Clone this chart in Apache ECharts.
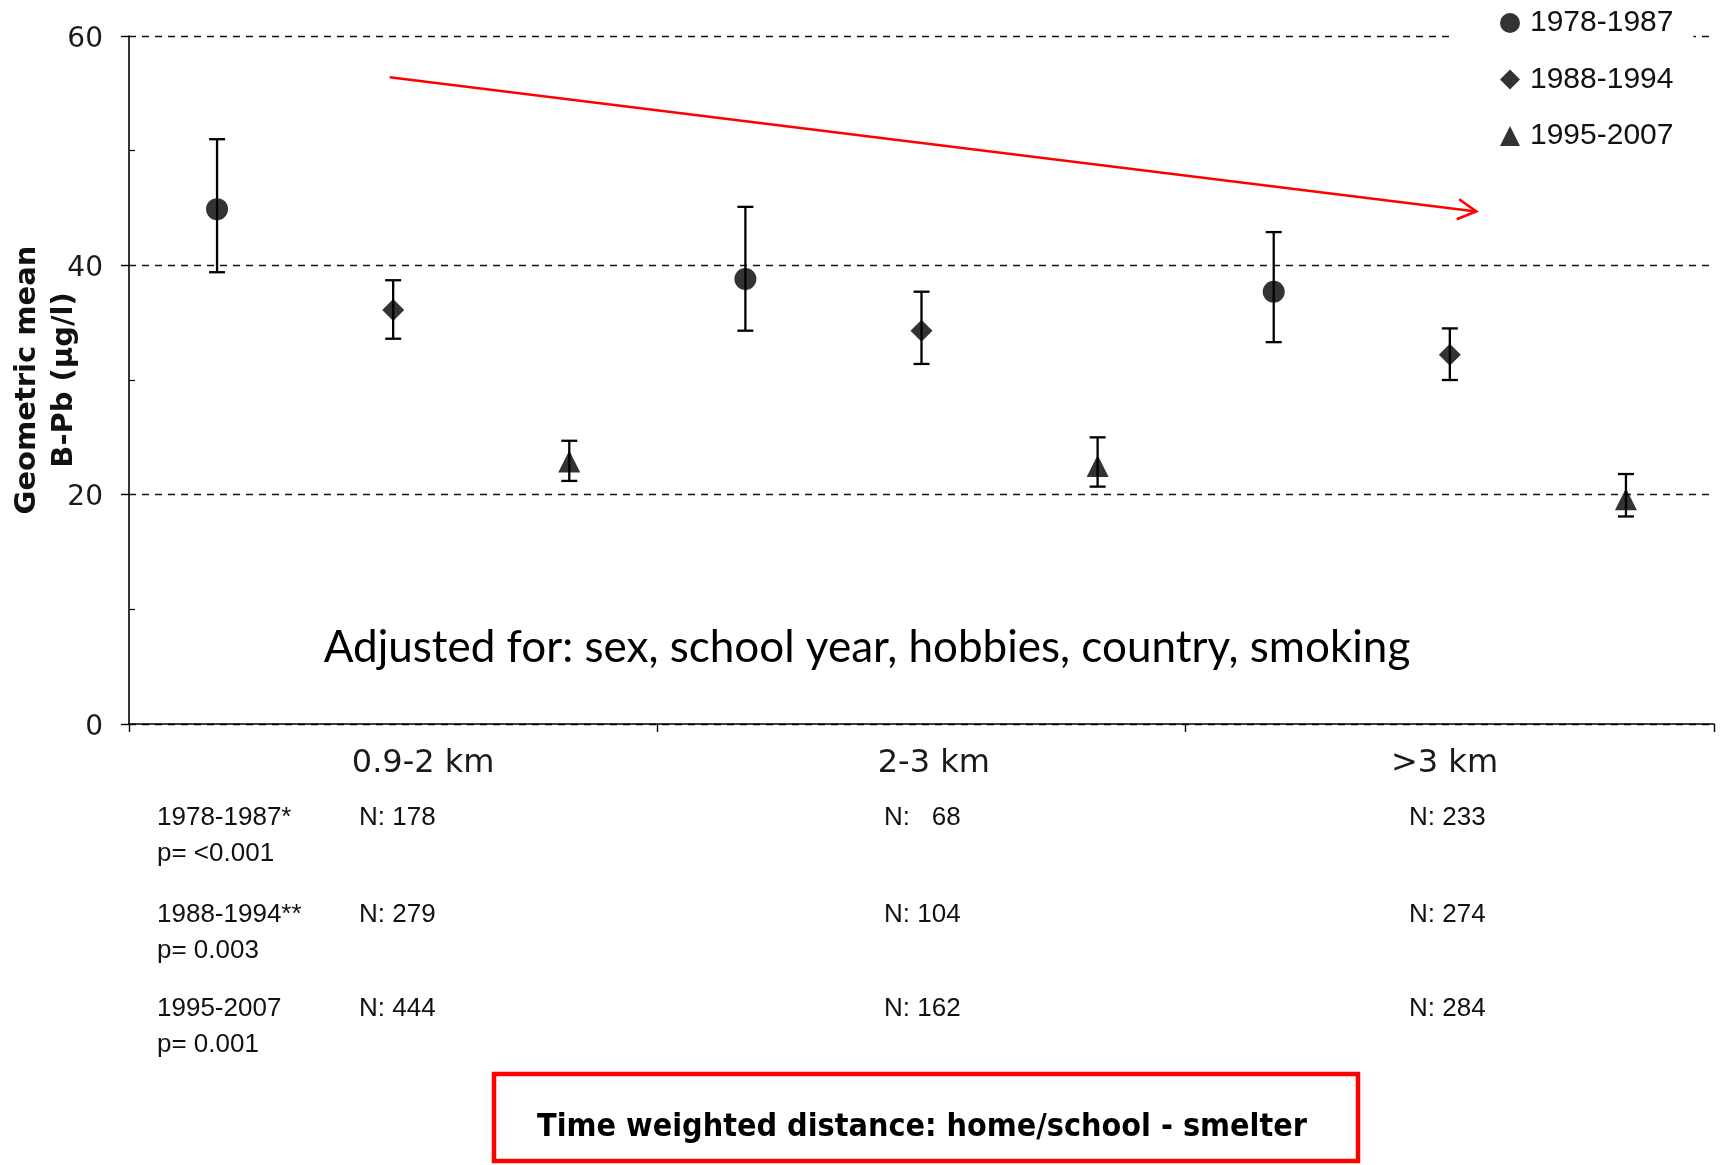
<!DOCTYPE html>
<html>
<head>
<meta charset="utf-8">
<script src="https://cdn.jsdelivr.net/npm/echarts@6/dist/echarts.min.js"></script>
<style>
  html, body { margin: 0; padding: 0; background: #fff; }
  #chart { width: 1721px; height: 1165px; }
</style>
</head>
<body>
<div id="chart"></div>
<script>
// Distance bands (time weighted distance home/school - smelter) and birth periods
const distanceBands = ['0.9-2 km', '2-3 km', '>3 km'];
const periods = ['1978-1987', '1988-1994', '1995-2007'];
const periodSymbols = ['circle', 'diamond', 'triangle'];

// Geometric mean B-Pb (µg/l) with lower / upper limits, one value per distance band
const mean1978 = [44.9, 38.8, 37.7];
const low1978  = [39.4, 34.3, 33.3];
const high1978 = [51.0, 45.1, 42.9];

const mean1988 = [36.1, 34.3, 32.2];
const low1988  = [33.6, 31.4, 30.0];
const high1988 = [38.7, 37.7, 34.5];

const mean1995 = [22.9, 22.5, 19.6];
const low1995  = [21.2, 20.7, 18.1];
const high1995 = [24.7, 25.0, 21.8];

// Number of children per period and distance band
const n1978 = ['178', '  68', '233'];
const n1988 = ['279', '104', '274'];
const n1995 = ['444', '162', '284'];
const periodNotes = ['1978-1987*', '1988-1994**', '1995-2007'];
const pValues = ['p= <0.001', 'p= 0.003', 'p= 0.001'];

// Y axis ticks
const yTicks = [0, 20, 40, 60];
const yMinorTicks = [10, 30, 50];

// Decreasing trend arrow, in axis units: [x0, y0, x1, y1]
const trendArrow = [1.48, 56.4, 7.65, 44.7];

const means = [mean1978, mean1988, mean1995];
const lows = [low1978, low1988, low1995];
const highs = [high1978, high1988, high1995];
const counts = [n1978, n1988, n1995];

// each band holds one slot per period; a mark sits in the middle of its slot
const slot = (band, p) => band * periods.length + p + 0.5;

const scatterSeries = periods.map((name, p) => ({
  name: name,
  type: 'scatter',
  symbol: periodSymbols[p],
  symbolSize: 22,
  z: 5,
  itemStyle: { color: '#000' },
  data: distanceBands.map((b, g) => [slot(g, p), means[p][g]])
}));

const errorData = [];
periods.forEach((name, p) => {
  distanceBands.forEach((b, g) => {
    errorData.push([slot(g, p), lows[p][g], highs[p][g]]);
  });
});

const errorSeries = {
  type: 'custom',
  name: 'ci',
  z: 4,
  encode: { x: 0, y: [1, 2] },
  data: errorData,
  renderItem: function (params, api) {
    const x = api.value(0);
    const top = api.coord([x, api.value(2)]);
    const bot = api.coord([x, api.value(1)]);
    const cap = 8;
    const style = { stroke: '#000', lineWidth: 2.3, fill: null };
    return {
      type: 'group',
      children: [
        { type: 'line', shape: { x1: top[0], y1: top[1], x2: bot[0], y2: bot[1] }, style: style },
        { type: 'line', shape: { x1: top[0] - cap, y1: top[1], x2: top[0] + cap, y2: top[1] }, style: style },
        { type: 'line', shape: { x1: bot[0] - cap, y1: bot[1], x2: bot[0] + cap, y2: bot[1] }, style: style }
      ]
    };
  }
};

const arrowSeries = {
  type: 'custom',
  name: 'trend',
  z: 3,
  encode: { x: [0, 2], y: [1, 3] },
  data: [trendArrow],
  renderItem: function (params, api) {
    const a = api.coord([api.value(0), api.value(1)]);
    const b = api.coord([api.value(2), api.value(3)]);
    const ang = Math.atan2(b[1] - a[1], b[0] - a[0]);
    const len = 21, spread = 0.5;
    const p1 = [b[0] - len * Math.cos(ang - spread), b[1] - len * Math.sin(ang - spread)];
    const p2 = [b[0] - len * Math.cos(ang + spread), b[1] - len * Math.sin(ang + spread)];
    const style = { stroke: '#ff0000', lineWidth: 2.6, fill: null };
    return {
      type: 'group',
      children: [
        { type: 'line', shape: { x1: a[0], y1: a[1], x2: b[0], y2: b[1] }, style: style },
        { type: 'polyline', shape: { points: [p1, b, p2] }, style: style }
      ]
    };
  }
};

// Sample-size table under the axis
const tableFont = '26px "Liberation Sans", Arial, sans-serif';
const rowY = [818, 915, 1009];
const colX = [359, 884, 1409];
const tableText = [];
periods.forEach((name, p) => {
  tableText.push({ type: 'text', x: 157, y: rowY[p], style: { text: periodNotes[p], font: tableFont, fill: '#111', verticalAlign: 'middle' } });
  tableText.push({ type: 'text', x: 157, y: rowY[p] + 36, style: { text: pValues[p], font: tableFont, fill: '#111', verticalAlign: 'middle' } });
  distanceBands.forEach((b, g) => {
    tableText.push({ type: 'text', x: colX[g], y: rowY[p], style: { text: 'N: ' + counts[p][g], font: tableFont, fill: '#111', verticalAlign: 'middle' } });
  });
});

const chart = echarts.init(document.getElementById('chart'));
chart.setOption({
  animation: false,
  backgroundColor: '#fff',
  grid: { left: 129, right: 7, top: 36, bottom: 441, outerBoundsMode: 'none', containLabel: false },
  legend: {
    data: periods,
    orient: 'vertical',
    left: 1453,
    top: 0,
    padding: [8, 20, 24, 47],
    backgroundColor: '#fff',
    itemWidth: 20,
    itemHeight: 20,
    itemGap: 26.5,
    textStyle: { fontFamily: '"Liberation Sans", Arial, sans-serif', fontSize: 30, lineHeight: 30, color: '#111', padding: [0, 0, 0, 5] }
  },
  xAxis: {
    type: 'value',
    min: 0,
    max: periods.length * distanceBands.length,
    axisLine: { show: true, lineStyle: { color: '#000', width: 1.6 } },
    axisTick: { show: true, customValues: [0, 3, 6, 9], length: 8, lineStyle: { color: '#000', width: 1.4 } },
    axisLabel: {
      customValues: [1.67, 4.57, 7.47],
      formatter: function (v) { return distanceBands[Math.floor(v / 3)]; },
      fontFamily: '"DejaVu Sans", Verdana, sans-serif',
      fontSize: 32,
      color: '#1a1a1a',
      margin: 24
    },
    splitLine: { show: false }
  },
  yAxis: [{
    type: 'value',
    min: yTicks[0],
    max: yTicks[yTicks.length - 1],
    interval: 20,
    position: 'left',
    name: 'Geometric mean\nB-Pb (µg/l)',
    nameLocation: 'middle',
    nameRotate: 90,
    nameGap: 46,
    nameMoveOverlap: false,
    nameTextStyle: { fontFamily: '"DejaVu Sans", Verdana, sans-serif', fontWeight: 'bold', fontSize: 29, lineHeight: 37, color: '#111' },
    axisLine: { show: true, lineStyle: { color: '#000', width: 1.6 } },
    axisTick: { show: true, length: 8, lineStyle: { color: '#000', width: 1.4 } },
    axisLabel: { fontFamily: '"DejaVu Sans", Verdana, sans-serif', fontSize: 28, color: '#1a1a1a', margin: 26, verticalAlign: 'top', lineHeight: 7 },
    splitLine: { show: true, lineStyle: { color: '#111', width: 1.4, type: [7, 6] } }
  }, {
    type: 'value',
    min: yTicks[0],
    max: yTicks[yTicks.length - 1],
    position: 'left',
    offset: 0,
    axisLine: { show: false },
    axisTick: { show: true, inside: true, customValues: yMinorTicks, length: 6, lineStyle: { color: '#000', width: 1.2 } },
    axisLabel: { show: false },
    splitLine: { show: false }
  }],
  graphic: [
    {
      type: 'text', x: 867, y: 648,
      style: { text: 'Adjusted for: sex, school year, hobbies, country, smoking', font: '44px Lato, "Open Sans", sans-serif', fill: '#000', align: 'center', verticalAlign: 'middle' }
    },
    ...tableText,
    {
      type: 'rect', shape: { x: 494, y: 1074, width: 864, height: 87 },
      style: { fill: '#fff', stroke: '#ff0000', lineWidth: 4.5 }
    },
    {
      type: 'text', x: 922, y: 1128,
      style: { text: 'Time weighted distance: home/school - smelter', font: 'bold 32px "DejaVu Sans Condensed", "DejaVu Sans", sans-serif', fill: '#000', align: 'center', verticalAlign: 'middle' }
    }
  ],
  series: [arrowSeries, errorSeries, ...scatterSeries]
});
</script>
</body>
</html>
